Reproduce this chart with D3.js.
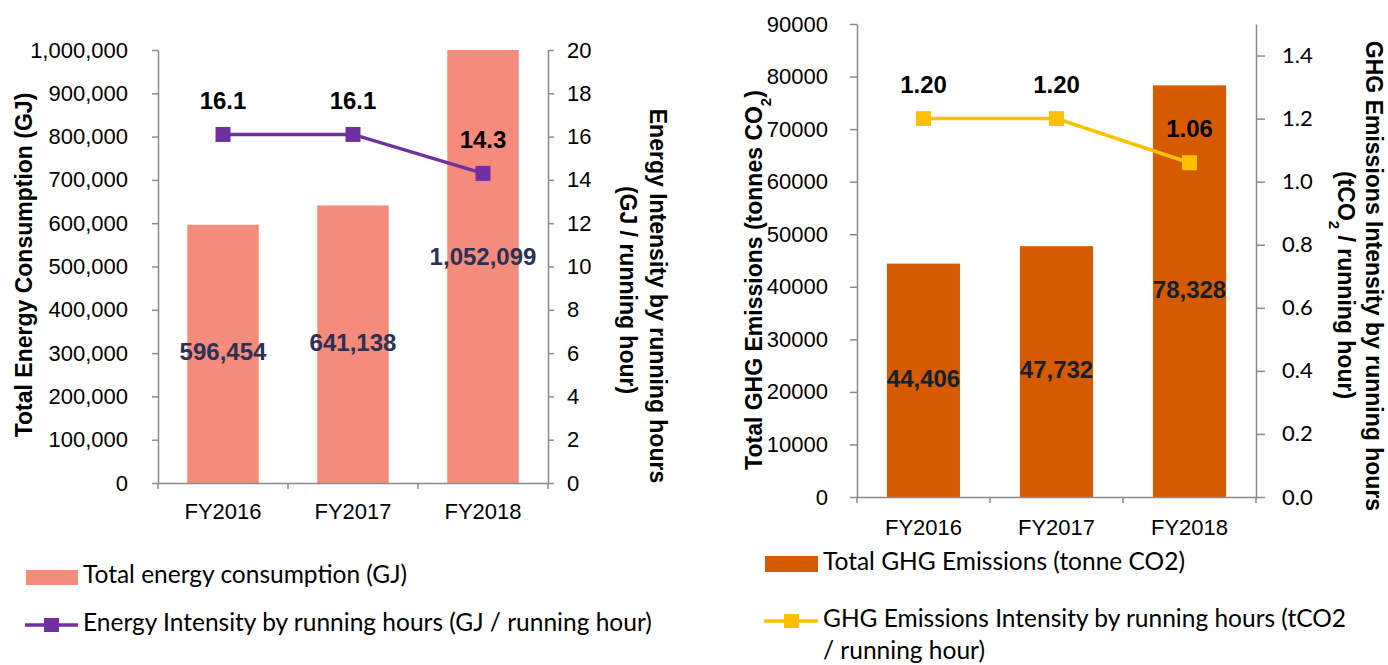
<!DOCTYPE html>
<html>
<head>
<meta charset="utf-8">
<script src="https://cdn.jsdelivr.net/npm/d3@7"></script>
<style>
  body { margin: 0; background: #fff; }
  svg text { font-family: "Liberation Sans", Arial, sans-serif; }
</style>
</head>
<body>
<div id="visualization"></div>
<script>
let w = 1388;
let h = 665;

// data
let categories = ["FY2016", "FY2017", "FY2018"];
let energyTotal = [596454, 641138, 1052099];
let energyIntensity = [16.1, 16.1, 14.3];
let ghgTotal = [44406, 47732, 78328];
let ghgIntensity = [1.20, 1.20, 1.06];

let energyTicks = [0, 100000, 200000, 300000, 400000, 500000, 600000, 700000, 800000, 900000, 1000000];
let energyIntTicks = [0, 2, 4, 6, 8, 10, 12, 14, 16, 18, 20];
let ghgTicks = [0, 10000, 20000, 30000, 40000, 50000, 60000, 70000, 80000, 90000];
let ghgIntTicks = [0, 0.2, 0.4, 0.6, 0.8, 1.0, 1.2, 1.4];

let axisGrey = "#8a8a8a";

let viz = d3.select("#visualization")
  .append("svg")
    .attr("width", w)
    .attr("height", h)
;

function styleAxis(g){
  g.selectAll(".domain").attr("stroke", axisGrey).attr("stroke-width", 1.5);
  g.selectAll(".tick line").attr("stroke", axisGrey).attr("stroke-width", 1.5);
  g.selectAll(".tick text").attr("fill", "#000");
}

function drawChart(opt){
  let x = d3.scaleBand().domain(categories).range([opt.left, opt.right]).paddingInner(0.45).paddingOuter(0.225);
  let yL = d3.scaleLinear().domain([0, opt.maxL]).range([opt.bottom, opt.top]);
  let yR = d3.scaleLinear().domain([0, opt.maxR]).range([opt.bottom, opt.top]);

  let g = viz.append("g");

  // bars (clipped at axis max like the original)
  g.selectAll(".bar").data(opt.bars).enter()
    .append("rect")
    .attr("x", (d, i) => x(categories[i]))
    .attr("y", d => yL(Math.min(d, opt.maxL)))
    .attr("width", x.bandwidth())
    .attr("height", d => yL(0) - yL(Math.min(d, opt.maxL)))
    .attr("fill", opt.barColor)
  ;

  // left axis
  let leftAxis = g.append("g")
    .attr("transform", "translate(" + opt.left + ",0)")
    .call(d3.axisLeft(yL).tickValues(opt.ticksL).tickFormat(opt.fmtL)
      .tickSizeInner(opt.tickL).tickSizeOuter(0).tickPadding(opt.padL));
  leftAxis.selectAll("text").style("font-size", "22px");
  styleAxis(leftAxis);

  // right axis
  let rightAxis = g.append("g")
    .attr("transform", "translate(" + opt.right + ",0)")
    .call(d3.axisRight(yR).tickValues(opt.ticksR).tickFormat(opt.fmtR)
      .tickSizeInner(opt.tickR).tickSizeOuter(0).tickPadding(opt.padR));
  rightAxis.selectAll("text").style("font-size", "22px").style("font-family", opt.fontR);
  styleAxis(rightAxis);

  // bottom axis: labels centred, ticks on band edges
  let bottomAxis = g.append("g")
    .attr("transform", "translate(0," + opt.bottom + ")")
    .call(d3.axisBottom(x).tickSize(0).tickSizeOuter(0).tickPadding(opt.padB));
  bottomAxis.selectAll("text").style("font-size", "22px");
  styleAxis(bottomAxis);
  let edges = categories.map(c => x(c) - x.step() * x.paddingInner() / 2);
  edges[0] = opt.left;
  edges.push(opt.right);
  bottomAxis.selectAll(".edge").data(edges).enter()
    .append("line")
    .attr("x1", d => d).attr("x2", d => d)
    .attr("y1", 0).attr("y2", 6)
    .attr("stroke", axisGrey).attr("stroke-width", 1.5);

  // bar value labels
  g.selectAll(".barlabel").data(opt.bars).enter()
    .append("text")
    .attr("x", (d, i) => x(categories[i]) + x.bandwidth() / 2)
    .attr("y", d => (yL(0) + yL(Math.min(d, opt.maxL))) / 2 + (d > opt.maxL ? -8 : 0))
    .attr("text-anchor", "middle")
    .attr("dominant-baseline", "middle")
    .style("font-size", "24px")
    .style("font-weight", "bold")
    .attr("fill", opt.barLabelColor)
    .text(d => d3.format(",")(d))
  ;

  // line + square markers
  let line = d3.line()
    .x((d, i) => x(categories[i]) + x.bandwidth() / 2)
    .y(d => yR(d));
  g.append("path")
    .datum(opt.line)
    .attr("d", line)
    .attr("fill", "none")
    .attr("stroke", opt.lineColor)
    .attr("stroke-width", 3.5);
  g.selectAll(".marker").data(opt.line).enter()
    .append("rect")
    .attr("x", (d, i) => x(categories[i]) + x.bandwidth() / 2 - 7.5)
    .attr("y", d => yR(d) - 7.5)
    .attr("width", 15).attr("height", 15)
    .attr("fill", opt.lineColor);
  g.selectAll(".linelabel").data(opt.line).enter()
    .append("text")
    .attr("x", (d, i) => x(categories[i]) + x.bandwidth() / 2)
    .attr("y", d => yR(d) - 32)
    .attr("text-anchor", "middle")
    .attr("dominant-baseline", "middle")
    .style("font-size", "24px")
    .style("font-weight", "bold")
    .text(d => opt.fmtLine(d))
  ;

  return g;
}

// ---------- left chart: energy ----------
let g1 = drawChart({
  left: 158, right: 548, top: 50, bottom: 483,
  maxL: 1000000, maxR: 20,
  ticksL: energyTicks, ticksR: energyIntTicks,
  fmtL: d3.format(","), fmtR: d3.format("d"),
  tickL: 6, padL: 24, tickR: 6, padR: 13, padB: 20,
  fontR: "Liberation Sans, Arial, sans-serif",
  bars: energyTotal, line: energyIntensity,
  barColor: "#f58b7b", lineColor: "#7030a0",
  barLabelColor: "#2b3152",
  fmtLine: d3.format(".1f")
});

g1.append("text")
  .attr("transform", "translate(32,265) rotate(-90)")
  .attr("text-anchor", "middle")
  .style("font-size", "23px").style("font-weight", "bold")
  .text("Total Energy Consumption (GJ)");
g1.append("text")
  .attr("transform", "translate(650,296) rotate(90)")
  .attr("text-anchor", "middle")
  .style("font-size", "23px").style("font-weight", "bold")
  .text("Energy Intensity by running hours");
g1.append("text")
  .attr("transform", "translate(620,290) rotate(90)")
  .attr("text-anchor", "middle")
  .style("font-size", "23px").style("font-weight", "bold")
  .text("(GJ / running hour)");

// ---------- right chart: GHG ----------
let g2 = drawChart({
  left: 857, right: 1256, top: 24, bottom: 497,
  maxL: 90000, maxR: 1.5,
  ticksL: ghgTicks, ticksR: ghgIntTicks,
  fmtL: d3.format("d"), fmtR: d3.format(".1f"),
  tickL: 7, padL: 22, tickR: 9, padR: 17, padB: 22,
  fontR: "Lato, sans-serif",
  bars: ghgTotal, line: ghgIntensity,
  barColor: "#d65b00", lineColor: "#ffc000",
  barLabelColor: "#14202e",
  fmtLine: d3.format(".2f")
});

let t1 = g2.append("text")
  .attr("transform", "translate(762,280) rotate(-90)")
  .attr("text-anchor", "middle")
  .style("font-size", "23px").style("font-weight", "bold");
t1.append("tspan").text("Total GHG Emissions (tonnes CO");
t1.append("tspan").attr("baseline-shift", "sub").style("font-size", "15px").text("2");
t1.append("tspan").text(")");

g2.append("text")
  .attr("transform", "translate(1366,276) rotate(90)")
  .attr("text-anchor", "middle")
  .style("font-size", "23px").style("font-weight", "bold")
  .text("GHG Emissions Intensity by running hours");
let t2 = g2.append("text")
  .attr("transform", "translate(1338,285) rotate(90)")
  .attr("text-anchor", "middle")
  .style("font-size", "23px").style("font-weight", "bold");
t2.append("tspan").text("(tCO");
t2.append("tspan").attr("baseline-shift", "sub").style("font-size", "15px").text("2");
t2.append("tspan").text(" / running hour)");

// ---------- legends ----------
function legendFont(sel){
  return sel.style("font-family", "Lato, sans-serif").style("font-size", "24.5px").attr("dominant-baseline", "middle");
}
let leg = viz.append("g");
// left
leg.append("rect").attr("x", 26).attr("y", 570).attr("width", 52).attr("height", 15).attr("fill", "#f58b7b");
legendFont(leg.append("text").attr("x", 83).attr("y", 577)).text("Total energy consumption (GJ)");
leg.append("line").attr("x1", 25).attr("x2", 78).attr("y1", 625).attr("y2", 625).attr("stroke", "#7030a0").attr("stroke-width", 3.5);
leg.append("rect").attr("x", 44).attr("y", 618).attr("width", 15).attr("height", 14).attr("fill", "#7030a0");
legendFont(leg.append("text").attr("x", 83).attr("y", 625)).text("Energy Intensity by running hours (GJ / running hour)");
// right
leg.append("rect").attr("x", 765).attr("y", 556).attr("width", 53).attr("height", 16).attr("fill", "#d65b00");
legendFont(leg.append("text").attr("x", 823).attr("y", 564)).text("Total GHG Emissions (tonne CO2)");
leg.append("line").attr("x1", 764).attr("x2", 818).attr("y1", 621).attr("y2", 621).attr("stroke", "#ffc000").attr("stroke-width", 3.5);
leg.append("rect").attr("x", 784).attr("y", 614).attr("width", 15).attr("height", 14).attr("fill", "#ffc000");
legendFont(leg.append("text").attr("x", 823).attr("y", 621)).text("GHG Emissions Intensity by running hours (tCO2");
legendFont(leg.append("text").attr("x", 823).attr("y", 653)).text("/ running hour)");
</script>
</body>
</html>
